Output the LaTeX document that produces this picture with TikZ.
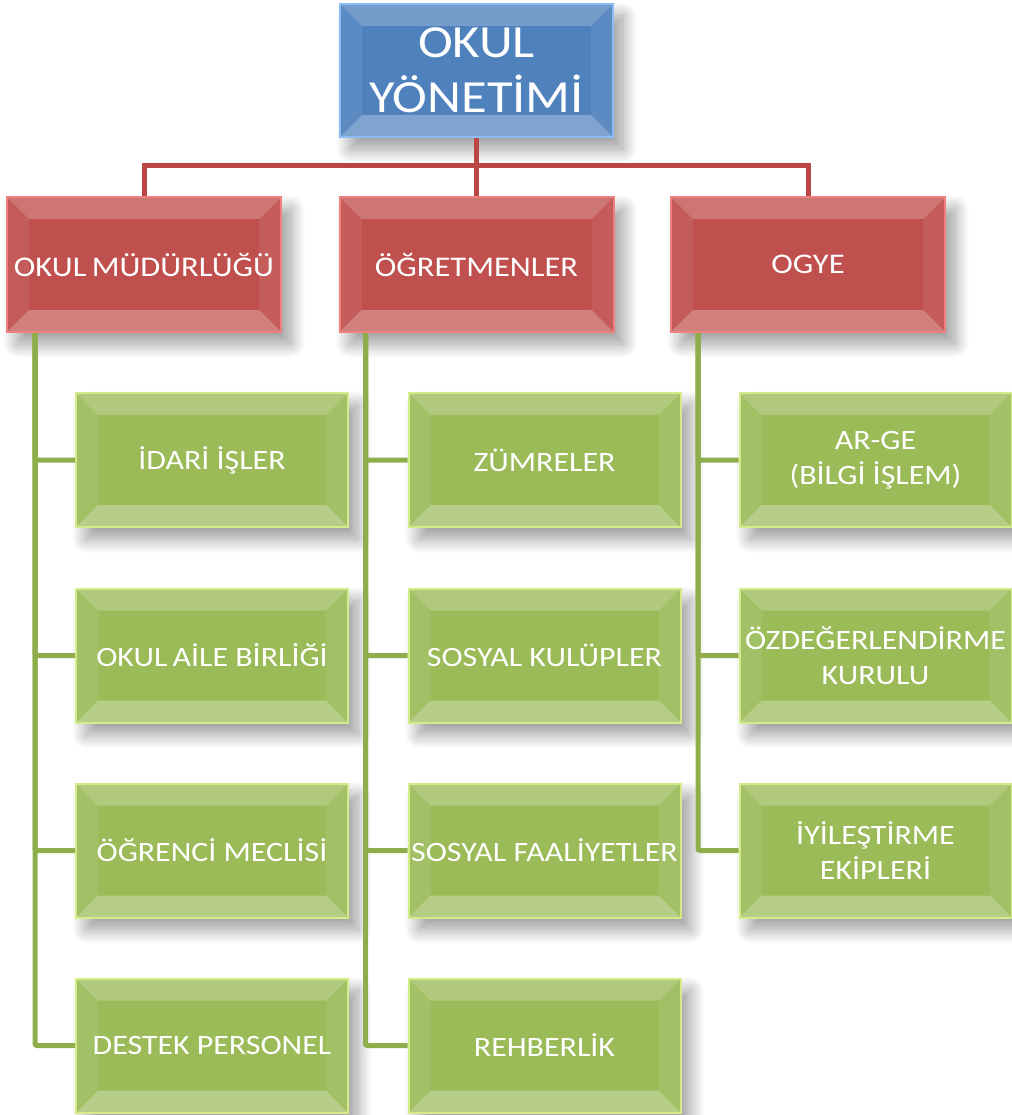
\documentclass[tikz,border=0pt]{standalone}
\usepackage{fontspec}
\newfontfamily\boxfont[FakeStretch=1.14]{Carlito}
\usetikzlibrary{shadows.blur,calc}

\definecolor{kbBlue}{HTML}{4F81BD}
\definecolor{kbBlueEdge}{HTML}{8CBCF5}
\definecolor{kbRed}{HTML}{C0504D}
\definecolor{kbRedEdge}{HTML}{F0807D}
\definecolor{kbGreen}{HTML}{9BBB59}
\definecolor{kbGreenEdge}{HTML}{D4EC88}
\definecolor{kbRedLine}{HTML}{BA4744}
\definecolor{kbGreenLine}{HTML}{8DAE4B}

\tikzset{
	bevel/.style={path picture={
		\fill[white, opacity=0.22] (path picture bounding box.north west) -- (path picture bounding box.north east)
			-- ([shift={(-22pt,-22pt)}]path picture bounding box.north east) -- ([shift={(22pt,-22pt)}]path picture bounding box.north west) -- cycle;
		\fill[white, opacity=0.28] (path picture bounding box.south west) -- (path picture bounding box.south east)
			-- ([shift={(-22pt,22pt)}]path picture bounding box.south east) -- ([shift={(22pt,22pt)}]path picture bounding box.south west) -- cycle;
		\fill[white, opacity=0.08] (path picture bounding box.north west) -- ([shift={(22pt,-22pt)}]path picture bounding box.north west)
			-- ([shift={(22pt,22pt)}]path picture bounding box.south west) -- (path picture bounding box.south west) -- cycle;
		\fill[white, opacity=0.08] (path picture bounding box.north east) -- ([shift={(-22pt,-22pt)}]path picture bounding box.north east)
			-- ([shift={(-22pt,22pt)}]path picture bounding box.south east) -- (path picture bounding box.south east) -- cycle;
	}},
	kutu/.style={rectangle, bevel, inner sep=0pt, align=center, text=white,
		minimum width=272pt, minimum height=134pt, line width=2pt,
		blur shadow={shadow xshift=10pt, shadow yshift=-12pt, shadow blur radius=14pt,
			shadow blur steps=20, shadow opacity=40},
		font=\boxfont\fontsize{28}{35}\selectfont},
	anakutu/.style={kutu, fill=kbBlue, draw=kbBlueEdge, minimum width=273pt, minimum height=133pt,
		font=\boxfont\fontsize{46}{55}\selectfont},
	birimkutu/.style={kutu, fill=kbRed, draw=kbRedEdge, minimum width=274pt, minimum height=135pt,
		font=\boxfont\fontsize{28.5}{35}\selectfont},
	altkutu/.style={kutu, fill=kbGreen, draw=kbGreenEdge},
	kirmizihat/.style={draw=kbRedLine, line width=5pt},
	yesilhat/.style={draw=kbGreenLine, line width=5pt, rounded corners=2pt},
}

\begin{document}
\begin{tikzpicture}[x=1pt, y=-1pt]
	\useasboundingbox (0,0) rectangle (1011,1115);

	% ust kutu
	\node[anakutu] (yonetim) at (476.5,70.5) {OKUL\\YÖNETİMİ};

	% birimler
	\node[birimkutu] (mudurluk) at (144,264.5) {OKUL\kern-2pt{} MÜDÜRLÜĞÜ};
	\node[birimkutu] (ogretmen) at (476.5,264.5) {ÖĞRETMENLER};
	\node[birimkutu] (ogye) at (808,264.5) {OGYE};

	% alt birimler
	\node[altkutu] (idari) at (212,460) {İDARİ İŞLER};
	\node[altkutu] (aile) at (212,655.5) {OKUL\kern-2pt{} AİLE BİRLİĞİ};
	\node[altkutu] (meclis) at (212,850.5) {ÖĞRENCİ MECLİSİ};
	\node[altkutu] (destek) at (212,1045.5) {DESTEK PERSONEL};

	\node[altkutu] (zumre) at (544.5,460) {ZÜMRELER};
	\node[altkutu] (kulup) at (544.5,655.5) {SOSYAL KULÜPLER};
	\node[altkutu] (faaliyet) at (544.5,850.5) {SOSYAL FAALİYETLER};
	\node[altkutu] (rehber) at (544.5,1045.5) {REHBERLİK};

	\node[altkutu] (arge) at (875.5,460) {AR-GE\\(BİLGİ İŞLEM)};
	\node[altkutu] (ozdeger) at (875.5,655.5) {ÖZDEĞERLENDİRME\\KURULU};
	\node[altkutu] (iyiles) at (875.5,850.5) {İYİLEŞTİRME\\EKİPLERİ};

	% kirmizi baglantilar
	\coordinate (bar) at ($(yonetim.south)+(0,28)$);
	\draw[kirmizihat] (yonetim.south) -- (bar) -| (mudurluk.north);
	\draw[kirmizihat] (bar) -| (ogye.north);
	\draw[kirmizihat] (bar) -- (ogretmen.north);

	% yesil baglantilar
	\coordinate (mkol) at ($(mudurluk.south west)+(29,0)$);
	\coordinate (okol) at ($(ogretmen.south west)+(27,0)$);
	\coordinate (gkol) at ($(ogye.south west)+(28,0)$);
	\foreach \alt in {idari,aile,meclis,destek}
		\draw[yesilhat] (mkol) |- (\alt.west);
	\foreach \alt in {zumre,kulup,faaliyet,rehber}
		\draw[yesilhat] (okol) |- (\alt.west);
	\foreach \alt in {arge,ozdeger,iyiles}
		\draw[yesilhat] (gkol) |- (\alt.west);
\end{tikzpicture}
\end{document}
